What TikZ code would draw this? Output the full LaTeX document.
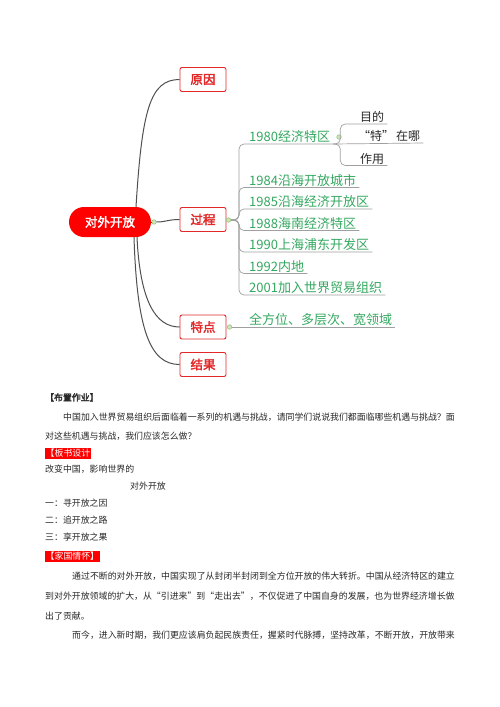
\documentclass[tikz,border=0pt]{standalone}
\usepackage{fontspec}
\setmainfont{Noto Sans CJK SC}[AutoFakeBold=2.5]
\usetikzlibrary{calc}
\definecolor{hubred}{RGB}{255,0,0}
\definecolor{boxred}{RGB}{226,40,40}
\definecolor{grn}{RGB}{52,168,96}
\definecolor{linegrey}{RGB}{80,80,80}
\definecolor{brgrey}{RGB}{160,160,160}
\definecolor{knobfill}{RGB}{205,230,185}
\definecolor{knobline}{RGB}{150,190,120}
\definecolor{bodytext}{RGB}{40,40,40}
\tikzset{
  hubnode/.style={fill=hubred, rounded corners=15pt, text=white, font=\bfseries\fontsize{12.5}{14}\selectfont, minimum width=82pt, minimum height=30pt, inner sep=0pt},
  redbox/.style={draw=boxred, line width=0.9pt, rounded corners=2pt, fill=white, text=boxred, font=\bfseries\fontsize{12.5}{14}\selectfont, minimum width=46pt, minimum height=24pt, inner sep=0pt},
  gtext/.style={anchor=south west, text=grn, font=\fontsize{13}{15}\selectfont, inner xsep=3pt, inner ysep=2.3pt, text depth=0pt},
  subtext/.style={anchor=south west, text=bodytext, font=\fontsize{12}{14}\selectfont, inner xsep=3pt, inner ysep=2.3pt, text depth=0pt},
  mainline/.style={draw=linegrey, line width=1pt},
  brline/.style={draw=brgrey, line width=0.7pt, rounded corners=5pt},
  knob/.style={circle, draw=knobline, fill=knobfill, line width=0.5pt, inner sep=0pt, minimum size=4.5pt},
  bodyline/.style={anchor=west, inner sep=0pt, text=bodytext, font=\fontsize{8.9}{10}\selectfont, text height=7pt, text depth=1.5pt},
  redlabel/.style={anchor=west, fill=hubred, text=white, inner xsep=0.5pt, inner ysep=1pt, font=\fontsize{8.9}{10}\selectfont, text height=7pt, text depth=1.5pt}
}
\begin{document}
\begin{tikzpicture}[x=1pt,y=-1pt]
\useasboundingbox (0,0) rectangle (500,707);
\fill[white] (0,0) rectangle (500,707);

% main nodes
\node[hubnode] (hub) at (110,222) {对外开放};
\node[redbox] (yy) at (203,79.5) {原因};
\node[redbox] (gc) at (203,219.5) {过程};
\node[redbox] (td) at (203,327) {特点};
\node[redbox] (jg) at (203,364.5) {结果};

\draw[mainline] ($(hub.north)+(26,0)$) .. controls (142,110) and (150,79.5) .. (yy.west);
\draw[mainline] ($(hub.south)+(27,0)$) .. controls (140,300) and (155,327) .. (td.west);
\draw[mainline] ($(hub.south)+(24,0)$) .. controls (137,330) and (150,364.5) .. (jg.west);
\node[knob] (k0) at (154,222) {};
\draw[mainline] (hub.east) -- (k0);
\draw[mainline] (k0) .. controls (166,222) and (168,219.5) .. (gc.west);

% process children
\node[knob] (k1) at (228.5,220) {};
\node[gtext] (a1) at (246,144) {1980经济特区};
\node[gtext] (a2) at (246,187.5) {1984沿海开放城市};
\node[gtext] (a3) at (246,209) {1985沿海经济开放区};
\node[gtext] (a4) at (246,230.5) {1988海南经济特区};
\node[gtext] (a5) at (246,252) {1990上海浦东开发区};
\node[gtext] (a6) at (246,273.5) {1992内地};
\node[gtext] (a7) at (246,295) {2001加入世界贸易组织};
\foreach \n in {a1,a2,a3,a4,a5,a6,a7}
  \draw[brline] (k1.east) -- ++(8,0) |- (\n.south east);

% 1980 children
\node[knob] (k2) at (339,137) {};
\node[subtext] (b1) at (357,124) {目的};
\node[subtext] (b2) at (355,143) {“特”\hspace{2pt}在哪};
\node[subtext] (b3) at (357,165.5) {作用};
\draw[brline] (a1.south east) -- ++(7,0) |- (b1.south east);
\draw[brline] (a1.south east) -- (b2.south east);
\draw[brline] (a1.south east) -- ++(7,0) |- (b3.south east);

% features child
\node[knob] (k3) at (229.5,327) {};
\node[gtext] (c1) at (246,327) {全方位、多层次、宽领域};
\draw[brline] (k3) -- (c1.south east);

% body text
\node[bodyline, font=\bfseries\fontsize{8.9}{10}\selectfont] (t1) at (45,398) {【布置作业】};
\node[bodyline] (t2) at (63,418) {中国加入世界贸易组织后面临着一系列的机遇与挑战，请同学们说说我们都面临哪些机遇与挑战？面};
\node[bodyline] (t3) at (45,437) {对这些机遇与挑战，我们应该怎么做？};
\node[redlabel] (t4) at (45,453.5) {【板书设计};
\node[bodyline] (t5) at (45,470) {改变中国，影响世界的};
\node[bodyline] (t6) at (130,487) {对外开放};
\node[bodyline] (t7) at (45,504) {一：寻开放之因};
\node[bodyline] (t8) at (45,521) {二：追开放之路};
\node[bodyline] (t9) at (45,538) {三：享开放之果};
\node[redlabel] (t10) at (45,556.5) {【家国情怀】};
\node[bodyline] (t11) at (72,577) {通过不断的对外开放，中国实现了从封闭半封闭到全方位开放的伟大转折。中国从经济特区的建立};
\node[bodyline] (t12) at (45,597) {到对外开放领域的扩大，从“引进来”到“走出去”，不仅促进了中国自身的发展，也为世界经济增长做};
\node[bodyline] (t13) at (45,617) {出了贡献。};
\node[bodyline] (t14) at (72,636) {而今，进入新时期，我们更应该肩负起民族责任，握紧时代脉搏，坚持改革，不断开放，开放带来};
\end{tikzpicture}
\end{document}
